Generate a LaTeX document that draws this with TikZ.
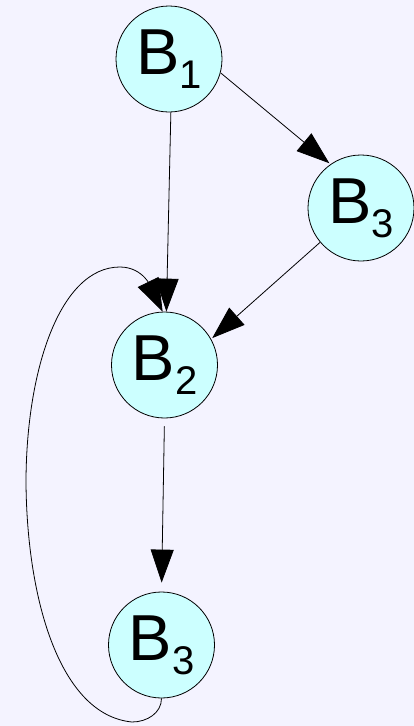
\documentclass[tikz,border=0pt]{standalone}
\usepackage{fontspec}
\setmainfont{Liberation Sans}
\usetikzlibrary{arrows.meta}
\definecolor{bgcol}{RGB}{244,243,255}
\definecolor{blockfill}{RGB}{204,255,255}
\newcommand{\bname}[1]{B\raisebox{-14pt}{\fontsize{40pt}{40pt}\selectfont #1}}
\tikzset{
  block/.style={circle, draw=black, fill=blockfill, line width=0.8pt, minimum size=106pt, inner sep=0pt, font=\fontsize{65pt}{65pt}\selectfont},
  flow/.style={-{Triangle[length=33pt, width=23pt]}, line width=0.8pt, draw=black},
}

\begin{document}
\begin{tikzpicture}[x=1pt, y=1pt]
  \fill[bgcol] (0,0) rectangle (414,-726);
  \useasboundingbox (0,0) rectangle (414,-726);

  \node[block] (b1) at (169,-59) {\bname{1}};
  \node[block] (b3a) at (361,-208) {\bname{3}};
  \node[block] (b2) at (164.5,-365) {\bname{2}};
  \node[block] (b3b) at (161.5,-645) {\bname{3}};

  \draw[flow] (b1.272) -- (b2.88);
  \draw[flow] (b1.-15) -- ([shift={(-1,1)}]b3a.125);
  \draw[flow] (b3a.220) -- ([shift={(1,1)}]b2.29);
  \draw[flow, shorten <=8pt, shorten >=9pt] (b2.south) -- (b3b.north);
  % back edge round the left side
  \coordinate (lowturn) at (132,-722);
  \coordinate (leftmost) at (26,-483);
  \coordinate (topturn) at (120,-267);
  \draw[flow] (b3b.south) to[out=-90, in=0] (lowturn)
    .. controls (60,-715) and (27,-600) .. (leftmost)
    .. controls (26,-370) and (60,-267) .. (topturn)
    to[out=0, in=116] (b2.92);
\end{tikzpicture}
\end{document}
